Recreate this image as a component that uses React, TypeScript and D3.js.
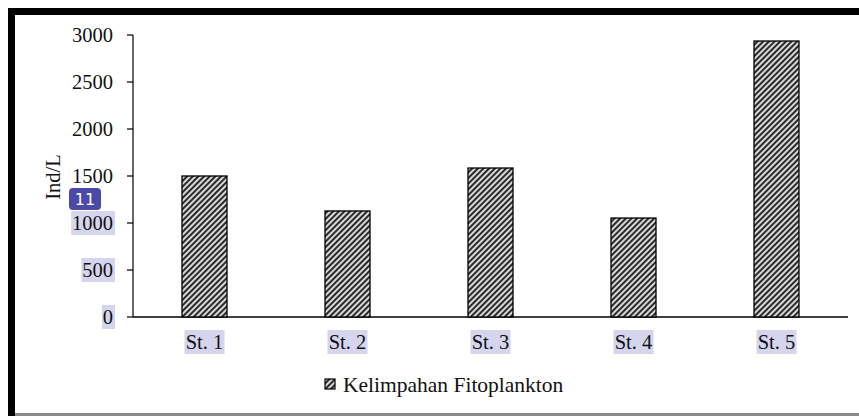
import { useRef, useEffect } from "react";
import * as d3 from "d3";

const stations = ["St. 1", "St. 2", "St. 3", "St. 4", "St. 5"];
const abundance = [1500, 1128, 1585, 1053, 2936];
const yTicks = [0, 500, 1000, 1500, 2000, 2500, 3000];
const highlightedTicks = [0, 500, 1000];
const seriesName = "Kelimpahan Fitoplankton";
const axisTitle = "Ind/L";

const W = 859;
const H = 416;
const font = "Liberation Serif, DejaVu Serif, serif";
const hl = "#d5d5ee";

export default function App() {
  const svgRef = useRef<SVGSVGElement>(null);

  useEffect(() => {
    if (!svgRef.current) return;
    const svg = d3.select(svgRef.current);
    svg.selectAll("*").remove();

    const defs = svg.append("defs");
    const pat = defs
      .append("pattern")
      .attr("id", "hatch")
      .attr("patternUnits", "userSpaceOnUse")
      .attr("width", 4)
      .attr("height", 4)
      .attr("patternTransform", "rotate(45)");
    pat.append("rect").attr("width", 4).attr("height", 4).attr("fill", "#d8d8d8");
    pat.append("rect").attr("width", 2).attr("height", 4).attr("fill", "#2a2a2a");

    // page frame
    svg.append("rect").attr("width", W).attr("height", H).attr("fill", "#fff");
    svg.append("rect").attr("x", 8).attr("y", 8).attr("width", W - 8).attr("height", 7).attr("fill", "#000");
    svg.append("rect").attr("x", 8).attr("y", 8).attr("width", 7).attr("height", H - 8).attr("fill", "#000");
    svg.append("rect").attr("x", 15).attr("y", 413).attr("width", W - 15).attr("height", 3).attr("fill", "#8a8a8a");

    const x = d3.scaleBand().domain(stations).range([133, 848]).paddingInner(0).paddingOuter(0);
    const y = d3.scaleLinear().domain([0, 3000]).range([317, 35]);
    const barW = 45;

    const g = svg.append("g").style("font-family", font).attr("fill", "#111");

    // y axis
    g.append("line").attr("x1", 133).attr("x2", 133).attr("y1", y(3000)).attr("y2", y(0)).attr("stroke", "#000").attr("stroke-width", 1.2);
    for (const t of yTicks) {
      g.append("line").attr("x1", 127).attr("x2", 133).attr("y1", y(t)).attr("y2", y(t)).attr("stroke", "#000").attr("stroke-width", 1.2);
      const label = String(t);
      const tw = label.length * 10.2;
      if (highlightedTicks.includes(t)) {
        g.append("rect").attr("x", 114 - tw - 2).attr("y", y(t) - 12).attr("width", tw + 3).attr("height", 24).attr("fill", hl);
      }
      g.append("text")
        .attr("x", 113)
        .attr("y", y(t))
        .attr("dy", "0.35em")
        .attr("text-anchor", "end")
        .attr("font-size", 20.5)
        .text(label);
    }

    // x axis
    g.append("line").attr("x1", 133).attr("x2", 848).attr("y1", y(0)).attr("y2", y(0)).attr("stroke", "#000").attr("stroke-width", 1.4);

    // bars
    stations.forEach((s, i) => {
      const cx = x(s)! + x.bandwidth() / 2;
      g.append("rect")
        .attr("x", cx - barW / 2)
        .attr("y", y(abundance[i]))
        .attr("width", barW)
        .attr("height", y(0) - y(abundance[i]))
        .attr("fill", "url(#hatch)")
        .attr("stroke", "#000")
        .attr("stroke-width", 1.3);
      g.append("rect").attr("x", cx - 20).attr("y", 330).attr("width", 40).attr("height", 24).attr("fill", hl);
      g.append("text")
        .attr("x", cx)
        .attr("y", 349)
        .attr("text-anchor", "middle")
        .attr("font-size", 20.5)
        .text(s);
    });

    // axis title
    g.append("text")
      .attr("transform", `translate(60,177) rotate(-90)`)
      .attr("text-anchor", "middle")
      .attr("font-size", 20.5)
      .text(axisTitle);

    // page number badge
    svg.append("rect").attr("x", 69).attr("y", 188).attr("width", 32).attr("height", 22).attr("rx", 4).attr("fill", "#4c4aa9");
    svg.append("text")
      .attr("x", 85)
      .attr("y", 199)
      .attr("dy", "0.36em")
      .attr("text-anchor", "middle")
      .style("font-family", "DejaVu Sans, sans-serif")
      .attr("font-size", 16)
      .attr("fill", "#fff")
      .text("11");

    // legend
    g.append("rect").attr("x", 325).attr("y", 379).attr("width", 10).attr("height", 10).attr("fill", "url(#hatch)").attr("stroke", "#000").attr("stroke-width", 1.2);
    g.append("text")
      .attr("x", 343)
      .attr("y", 392)
      .attr("font-size", 21.5)
      .text(seriesName);
  }, []);

  return (
    <svg
      ref={svgRef}
      width={W}
      height={H}
      style={{ position: "absolute", left: 0, top: 0 }}
    />
  );
}
